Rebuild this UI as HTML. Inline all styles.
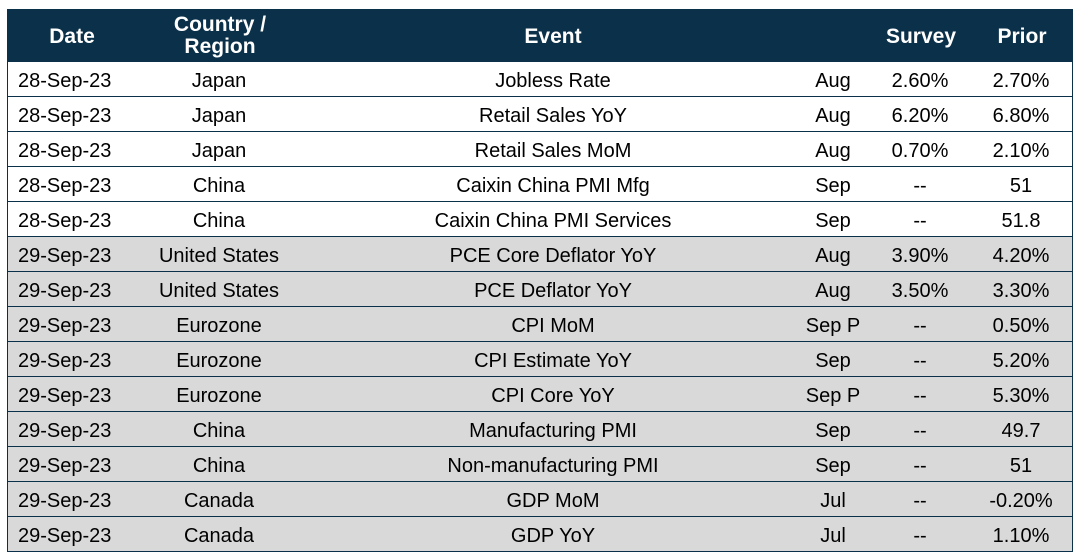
<!DOCTYPE html>
<html><head><style>
body{margin:0;width:1080px;height:558px;background:#fff;position:relative;font-family:"Liberation Sans",Arial,sans-serif;overflow:hidden}
.t{position:absolute;left:7px;top:9px;width:1064px;height:542px;border:1px solid #0b3049;border-width:0 1px 1px 1px}
.h{position:absolute;left:7px;top:9px;width:1066px;height:53px;background:#0b3049;color:#fff;font-weight:bold;font-size:21px}
.h div{position:absolute;text-align:center;line-height:22px}
.r{position:absolute;left:8px;width:1064px;height:34px;border-bottom:1px solid #0b3049;font-size:20px;line-height:38px;color:#000}
.r div{position:absolute;top:0;text-align:center;white-space:nowrap}
.a{left:10px}
.b{left:131px;width:160px}
.c{left:345px;width:400px}
.d{left:775px;width:100px}
.e{left:862px;width:100px}
.f{left:963px;width:100px}
.g{background:#d9d9d9}
</style></head><body>
<div class="t"></div>
<div class="h">
<div style="left:0;width:130px;top:17px">Date</div>
<div style="left:133px;width:160px;top:5px">Country /<br>Region</div>
<div style="left:446px;width:200px;top:17px">Event</div>
<div style="left:854px;width:120px;top:17px">Survey</div>
<div style="left:955px;width:120px;top:17px">Prior</div>
</div>
<div class="r" style="top:62px"><div class="a">28-Sep-23</div><div class="b">Japan</div><div class="c">Jobless Rate</div><div class="d">Aug</div><div class="e">2.60%</div><div class="f">2.70%</div></div>
<div class="r" style="top:97px"><div class="a">28-Sep-23</div><div class="b">Japan</div><div class="c">Retail Sales YoY</div><div class="d">Aug</div><div class="e">6.20%</div><div class="f">6.80%</div></div>
<div class="r" style="top:132px"><div class="a">28-Sep-23</div><div class="b">Japan</div><div class="c">Retail Sales MoM</div><div class="d">Aug</div><div class="e">0.70%</div><div class="f">2.10%</div></div>
<div class="r" style="top:167px"><div class="a">28-Sep-23</div><div class="b">China</div><div class="c">Caixin China PMI Mfg</div><div class="d">Sep</div><div class="e">--</div><div class="f">51</div></div>
<div class="r" style="top:202px"><div class="a">28-Sep-23</div><div class="b">China</div><div class="c">Caixin China PMI Services</div><div class="d">Sep</div><div class="e">--</div><div class="f">51.8</div></div>
<div class="r g" style="top:237px"><div class="a">29-Sep-23</div><div class="b">United States</div><div class="c">PCE Core Deflator YoY</div><div class="d">Aug</div><div class="e">3.90%</div><div class="f">4.20%</div></div>
<div class="r g" style="top:272px"><div class="a">29-Sep-23</div><div class="b">United States</div><div class="c">PCE Deflator YoY</div><div class="d">Aug</div><div class="e">3.50%</div><div class="f">3.30%</div></div>
<div class="r g" style="top:307px"><div class="a">29-Sep-23</div><div class="b">Eurozone</div><div class="c">CPI MoM</div><div class="d">Sep P</div><div class="e">--</div><div class="f">0.50%</div></div>
<div class="r g" style="top:342px"><div class="a">29-Sep-23</div><div class="b">Eurozone</div><div class="c">CPI Estimate YoY</div><div class="d">Sep</div><div class="e">--</div><div class="f">5.20%</div></div>
<div class="r g" style="top:377px"><div class="a">29-Sep-23</div><div class="b">Eurozone</div><div class="c">CPI Core YoY</div><div class="d">Sep P</div><div class="e">--</div><div class="f">5.30%</div></div>
<div class="r g" style="top:412px"><div class="a">29-Sep-23</div><div class="b">China</div><div class="c">Manufacturing PMI</div><div class="d">Sep</div><div class="e">--</div><div class="f">49.7</div></div>
<div class="r g" style="top:447px"><div class="a">29-Sep-23</div><div class="b">China</div><div class="c">Non-manufacturing PMI</div><div class="d">Sep</div><div class="e">--</div><div class="f">51</div></div>
<div class="r g" style="top:482px"><div class="a">29-Sep-23</div><div class="b">Canada</div><div class="c">GDP MoM</div><div class="d">Jul</div><div class="e">--</div><div class="f">-0.20%</div></div>
<div class="r g" style="top:517px"><div class="a">29-Sep-23</div><div class="b">Canada</div><div class="c">GDP YoY</div><div class="d">Jul</div><div class="e">--</div><div class="f">1.10%</div></div>
</body></html>
